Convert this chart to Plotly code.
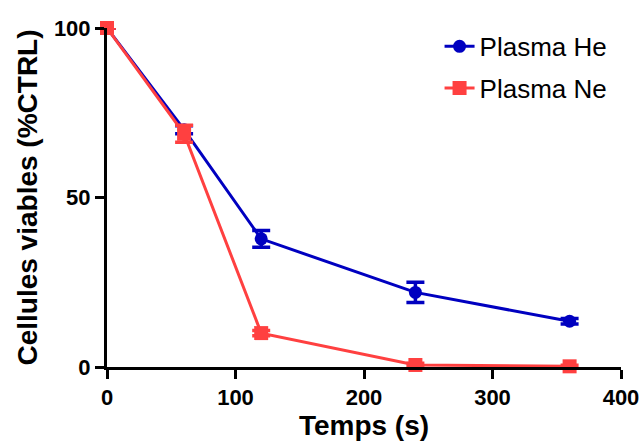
import plotly.graph_objects as go

time_s = [0, 60, 120, 240, 360]
he_values = [100, 70, 37.8, 22, 13.5]
he_err = [0, 1.2, 2.5, 3, 0.8]
ne_values = [100, 68.8, 10, 0.6, 0.2]
ne_err = [0, 2.5, 0.8, 0.5, 0.3]

BLUE = "#0000C0"
RED = "#FF4040"
FONT = "Liberation Sans, Arial, sans-serif"

fig = go.Figure()
fig.add_trace(go.Scatter(
    x=time_s, y=he_values, name="Plasma He", mode="lines+markers",
    legendgroup="he",
    line=dict(color=BLUE, width=3),
    marker=dict(symbol="circle", size=13, color=BLUE),
    error_y=dict(type="data", array=he_err, color=BLUE, thickness=3.5, width=9),
    cliponaxis=False,
))
fig.add_trace(go.Scatter(
    x=time_s, y=ne_values, name="Plasma Ne", mode="lines+markers",
    legendgroup="ne",
    line=dict(color=RED, width=3),
    marker=dict(symbol="square", size=14, color=RED),
    error_y=dict(type="data", array=ne_err, color=RED, thickness=3.5, width=9),
    cliponaxis=False,
))

fig.update_layout(
    width=644, height=446,
    margin=dict(l=107, r=23, t=28, b=79),
    plot_bgcolor="white", paper_bgcolor="white",
    font=dict(family=FONT, color="black"),
    showlegend=True,
    legend=dict(x=0.647, y=1.015, xanchor="left", yanchor="top",
                font=dict(size=26, family=FONT), bgcolor="rgba(0,0,0,0)",
                traceorder="grouped", tracegroupgap=5),
    xaxis=dict(
        range=[0, 400], tickvals=[0, 100, 200, 300, 400],
        showline=True, linecolor="black", linewidth=3,
        ticks="outside", ticklen=9, tickwidth=3, tickcolor="black",
        showgrid=False, zeroline=False, automargin=False,
        tickfont=dict(size=22, family=FONT, weight="bold"),
        title=dict(text="<b>Temps (s)</b>", font=dict(size=28, family=FONT), standoff=4),
    ),
    yaxis=dict(
        range=[0, 100], tickvals=[0, 50, 100],
        showline=True, linecolor="black", linewidth=3,
        ticks="outside", ticklen=9, tickwidth=3, tickcolor="black",
        showgrid=False, zeroline=False, automargin=False,
        tickfont=dict(size=22, family=FONT, weight="bold"),
        title=dict(text="<b>Cellules viables (%CTRL)</b>", font=dict(size=28, family=FONT), standoff=9),
    ),
)

fig.write_html("out.html", config={"displayModeBar": False},
               post_script="document.body.style.margin='0';")
